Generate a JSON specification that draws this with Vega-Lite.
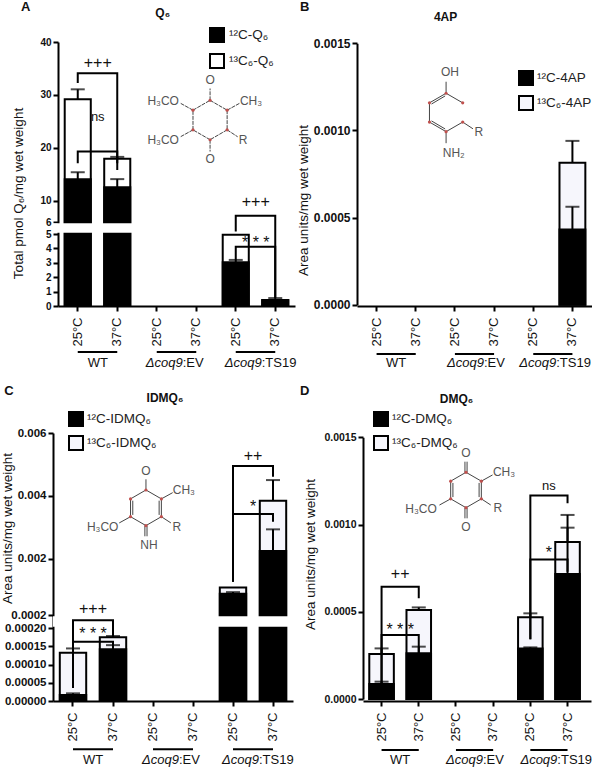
{
"$schema":"https://vega.github.io/schema/vega-lite/v6.json",
"autosize":"none",
"padding":{"left":53,"top":42,"right":539,"bottom":726},
"background":"white",
"config":{"font":"Liberation Sans","view":{"stroke":null},"text":{"font":"Liberation Sans","color":"#111"},"axis":{"labelFont":"Liberation Sans","titleFont":"Liberation Sans","grid":false,"domainColor":"black","domainWidth":2,"tickColor":"black","tickWidth":2,"tickSize":5,"labelColor":"#111","titleColor":"#111"},"legend":{"labelFont":"Liberation Sans"}},
"columns":2,
"bounds":"flush",
"spacing":{"row":127,"column":62},
"resolve":{"scale":{"fill":"independent"},"legend":{"fill":"independent"}},
"concat":[
{"width":242,"height":264,
 "resolve":{"scale":{"x":"independent","y":"independent"}},
 "layer":[
 {"encoding":{
   "x":{"field":"x","type":"nominal","scale":{"domain":["WT 25°C","WT 37°C","EV 25°C","EV 37°C","TS19 25°C","TS19 37°C"],"range":[5,242],"paddingInner":0.34,"paddingOuter":0.17},"axis":{"title":null,"labelAngle":-90,"labelFontSize":13,"labelPadding":6,"labelExpr":"slice(datum.value,-4)"}},
   "y":{"field":"y","type":"quantitative","stack":null,"scale":{"domain":[0,5,6,40],"range":[264,192,180,0],"nice":false,"zero":false},"axis":{"values":[0,1,2,3,4,5,6,10,20,30,40],"format":"d","offset":-5,"labelFontSize":10,"labelFontWeight":"bold","labelPadding":2,"title":"Total pmol Q₆/mg wet weight","titleFontSize":13.5,"titleFontWeight":"normal","titleX":-33,"titleY":151}}},
  "layer":[
  {"data":{"values":[
    {"x":"WT 25°C","series":"¹³C₆-Q₆","y":29.2},{"x":"WT 37°C","series":"¹³C₆-Q₆","y":17.96},{"x":"TS19 25°C","series":"¹³C₆-Q₆","y":4.95},{"x":"TS19 37°C","series":"¹³C₆-Q₆","y":0.42},
    {"x":"WT 25°C","series":"¹²C-Q₆","y":14.06},{"x":"WT 37°C","series":"¹²C-Q₆","y":12.55},{"x":"TS19 25°C","series":"¹²C-Q₆","y":3.03},{"x":"TS19 37°C","series":"¹²C-Q₆","y":0.4}]},
   "mark":{"type":"bar","stroke":"black","strokeWidth":2},
   "encoding":{"fill":{"field":"series","type":"nominal","scale":{"domain":["¹²C-Q₆","¹³C₆-Q₆"],"range":["black","white"]},"legend":{"title":null,"orient":"none","legendX":156,"legendY":-15,"symbolType":"square","symbolSize":196,"symbolStrokeColor":"black","symbolStrokeWidth":2,"labelFontSize":13.5,"labelColor":"#222","labelOffset":4,"rowPadding":4}}}},
  {"data":{"name":"errA","values":[
    {"x":"WT 25°C","y":29.2,"top":31.06},{"x":"WT 25°C","y":14.06,"top":15.4},{"x":"WT 37°C","y":17.96,"top":18.3},{"x":"WT 37°C","y":12.55,"top":14.1},{"x":"TS19 25°C","y":3.03,"top":3.2},{"x":"TS19 37°C","y":0.42,"top":0.55}]},
   "mark":{"type":"rule","strokeWidth":2,"color":"black"},"encoding":{"y2":{"field":"top"}}},
  {"data":{"name":"errA"},"mark":{"type":"tick","size":14,"thickness":2,"color":"black"},"encoding":{"y":{"field":"top","type":"quantitative"}}},
  {"data":{"values":[{"y":5.1,"to":5.9}]},"mark":{"type":"rect","fill":"white"},"encoding":{"x":null,"y2":{"field":"to"}}},
  {"data":{"values":[
    {"id":"a","step":1,"x":"WT 25°C","y":32.25},{"id":"a","step":2,"x":"WT 25°C","y":34.1},{"id":"a","step":3,"x":"WT 37°C","y":34.1},{"id":"a","step":4,"x":"WT 37°C","y":17.1},
    {"id":"b","step":1,"x":"WT 25°C","y":17.1},{"id":"b","step":2,"x":"WT 25°C","y":19.3},{"id":"b","step":3,"x":"WT 37°C","y":19.3},{"id":"b","step":4,"x":"WT 37°C","y":15.8},
    {"id":"c","step":1,"x":"TS19 25°C","y":5.2},{"id":"c","step":2,"x":"TS19 25°C","y":7.19},{"id":"c","step":3,"x":"TS19 37°C","y":7.19},{"id":"c","step":4,"x":"TS19 37°C","y":0.56},
    {"id":"d","step":1,"x":"TS19 25°C","y":3.19},{"id":"d","step":2,"x":"TS19 25°C","y":4.12},{"id":"d","step":3,"x":"TS19 37°C","y":4.12},{"id":"d","step":4,"x":"TS19 37°C","y":0.56},
    {"id":"u1","step":1,"x":"WT 25°C","y":-3.19},{"id":"u1","step":2,"x":"WT 37°C","y":-3.19},
    {"id":"u2","step":1,"x":"EV 25°C","y":-3.19},{"id":"u2","step":2,"x":"EV 37°C","y":-3.19},
    {"id":"u3","step":1,"x":"TS19 25°C","y":-3.19},{"id":"u3","step":2,"x":"TS19 37°C","y":-3.19}]},
   "mark":{"type":"line","strokeWidth":2,"color":"black"},"encoding":{"detail":{"field":"id"},"order":{"field":"step","type":"quantitative"}}},
  {"data":{"values":[
    {"x":"WT 25°C","y":36,"label":"+++","size":16},{"x":"WT 25°C","y":25.8,"label":"ns","size":13},{"x":"TS19 25°C","y":9.78,"label":"+++","size":16},{"x":"TS19 25°C","y":4.4,"label":"* * *","size":16},{"x":"WT 25°C","y":-3.96,"label":"WT","size":13}]},
   "mark":{"type":"text","dx":20,"baseline":"middle"},"encoding":{"text":{"field":"label"},"size":{"field":"size","type":"quantitative","scale":null}}},
  {"data":{"values":[{"x":"EV 25°C","y":-3.96,"label":"Δcoq9"},{"x":"TS19 25°C","y":-3.96,"label":"Δcoq9"}]},
   "mark":{"type":"text","dx":26,"align":"right","baseline":"middle","fontStyle":"italic","fontSize":13},"encoding":{"text":{"field":"label"}}},
  {"data":{"values":[{"x":"EV 25°C","y":-3.96,"label":":EV"},{"x":"TS19 25°C","y":-3.96,"label":":TS19"}]},
   "mark":{"type":"text","dx":26,"align":"left","baseline":"middle","fontSize":13},"encoding":{"text":{"field":"label"}}},
  {"data":{"values":[{"x":"WT 25°C","y":45.5,"label":"Q₆"}]},"mark":{"type":"text","dx":85,"baseline":"middle","fontWeight":"bold","fontSize":12},"encoding":{"text":{"field":"label"}}},
  {"data":{"values":[{"x":"WT 25°C","y":46.6,"label":"A"}]},"mark":{"type":"text","dx":-52,"baseline":"middle","fontWeight":"bold","fontSize":13},"encoding":{"text":{"field":"label"}}}
  ]},
 {"encoding":{"x":{"field":"x","type":"quantitative","scale":{"domain":[-7.97,4.31],"nice":false,"zero":false},"axis":null},"y":{"field":"y","type":"quantitative","scale":{"domain":[-9.44,3.96],"nice":false,"zero":false},"axis":null}},
  "layer":[
  {"data":{"values":[
    {"x":0,"y":1,"x2":0.866,"y2":0.5},{"x":0.866,"y":0.5,"x2":0.866,"y2":-0.5},{"x":0.866,"y":-0.5,"x2":0,"y2":-1},{"x":0,"y":-1,"x2":-0.866,"y2":-0.5},{"x":-0.866,"y":-0.5,"x2":-0.866,"y2":0.5},{"x":-0.866,"y":0.5,"x2":0,"y2":1},
    {"x":0,"y":1,"x2":0,"y2":1.6},{"x":0,"y":-1,"x2":0,"y2":-1.6},{"x":0.866,"y":0.5,"x2":1.5,"y2":0.85},{"x":-0.866,"y":0.5,"x2":-1.5,"y2":0.85},{"x":0.866,"y":-0.5,"x2":1.4,"y2":-0.85},{"x":-0.866,"y":-0.5,"x2":-1.5,"y2":-0.85}]},
   "mark":{"type":"rule","strokeWidth":1,"color":"#444","strokeDash":[4,1]},"encoding":{"x2":{"field":"x2"},"y2":{"field":"y2"}}},
  {"data":{"values":[{"x":0,"y":1},{"x":0.866,"y":0.5},{"x":0.866,"y":-0.5},{"x":0,"y":-1},{"x":-0.866,"y":-0.5},{"x":-0.866,"y":0.5}]},"mark":{"type":"circle","size":10,"color":"#c0504d","opacity":1}},
  {"data":{"values":[{"x":0,"y":2.03,"label":"O"},{"x":0,"y":-2.0,"label":"O"},{"x":2.08,"y":0.96,"label":"CH₃"},{"x":-2.38,"y":0.96,"label":"H₃CO"},{"x":1.68,"y":-1,"label":"R"},{"x":-2.38,"y":-1,"label":"H₃CO"}]},"mark":{"type":"text","fontSize":12,"baseline":"middle","color":"#555"},"encoding":{"text":{"field":"label"}}}
  ]}
 ]},
{"width":235,"height":264,
 "resolve":{"scale":{"x":"independent","y":"independent"}},
 "layer":[
 {"encoding":{
   "x":{"field":"x","type":"nominal","scale":{"domain":["WT 25°C","WT 37°C","EV 25°C","EV 37°C","TS19 25°C","TS19 37°C"],"range":[0,235],"paddingInner":0.34,"paddingOuter":0.17},"axis":{"title":null,"labelAngle":-90,"labelFontSize":13,"labelPadding":6,"labelExpr":"slice(datum.value,-4)"}},
   "y":{"field":"y","type":"quantitative","stack":null,"scale":{"domain":[0,0.0015],"range":[262.7,1.3],"nice":false,"zero":false},"axis":{"values":[0,0.0005,0.001,0.0015],"format":".4f","labelFontSize":12,"labelFontWeight":"bold","labelPadding":2,"title":"Area units/mg wet weight","titleFontSize":13.5,"titleFontWeight":"normal","titleX":-47,"titleY":158}}},
  "layer":[
  {"data":{"values":[
    {"x":"TS19 37°C","series":"¹³C₆-4AP","y":0.000815},
    {"x":"TS19 37°C","series":"¹²C-4AP","y":0.000432}]},
   "mark":{"type":"bar","stroke":"black","strokeWidth":2},
   "encoding":{"fill":{"field":"series","type":"nominal","scale":{"domain":["¹²C-4AP","¹³C₆-4AP"],"range":["black","#f6f6fc"]},"legend":{"title":null,"orient":"none","legendX":161,"legendY":28,"symbolType":"square","symbolSize":196,"symbolStrokeColor":"black","symbolStrokeWidth":2,"labelFontSize":13.5,"labelColor":"#222","labelOffset":3,"rowPadding":3}}}},
  {"data":{"name":"errB","values":[{"x":"TS19 37°C","y":0.000815,"top":0.00094},{"x":"TS19 37°C","y":0.000432,"top":0.000562}]},
   "mark":{"type":"rule","strokeWidth":2,"color":"black"},"encoding":{"y2":{"field":"top"}}},
  {"data":{"name":"errB"},"mark":{"type":"tick","size":14,"thickness":2,"color":"black"},"encoding":{"y":{"field":"top","type":"quantitative"}}},
  {"data":{"values":[
    {"id":"u1","step":1,"x":"WT 25°C","y":-0.000283},{"id":"u1","step":2,"x":"WT 37°C","y":-0.000283},
    {"id":"u2","step":1,"x":"EV 25°C","y":-0.000283},{"id":"u2","step":2,"x":"EV 37°C","y":-0.000283},
    {"id":"u3","step":1,"x":"TS19 25°C","y":-0.000283},{"id":"u3","step":2,"x":"TS19 37°C","y":-0.000283}]},
   "mark":{"type":"line","strokeWidth":2,"color":"black"},"encoding":{"detail":{"field":"id"},"order":{"field":"step","type":"quantitative"}}},
  {"data":{"values":[{"x":"WT 25°C","y":-0.000336,"label":"WT"}]},"mark":{"type":"text","dx":19.5,"baseline":"middle","fontSize":13},"encoding":{"text":{"field":"label"}}},
  {"data":{"values":[{"x":"EV 25°C","y":-0.000336,"label":"Δcoq9"}]},
   "mark":{"type":"text","dx":29,"align":"right","baseline":"middle","fontStyle":"italic","fontSize":13},"encoding":{"text":{"field":"label"}}},
  {"data":{"values":[{"x":"EV 25°C","y":-0.000336,"label":":EV"}]},
   "mark":{"type":"text","dx":29,"align":"left","baseline":"middle","fontSize":13},"encoding":{"text":{"field":"label"}}},
  {"data":{"values":[{"x":"TS19 25°C","y":-0.000336,"label":"Δcoq9"}]},
   "mark":{"type":"text","dx":23,"align":"right","baseline":"middle","fontStyle":"italic","fontSize":13},"encoding":{"text":{"field":"label"}}},
  {"data":{"values":[{"x":"TS19 25°C","y":-0.000336,"label":":TS19"}]},
   "mark":{"type":"text","dx":23,"align":"left","baseline":"middle","fontSize":13},"encoding":{"text":{"field":"label"}}},
  {"data":{"values":[{"x":"WT 25°C","y":0.00165,"label":"4AP"}]},"mark":{"type":"text","dx":69,"baseline":"middle","fontWeight":"bold","fontSize":12},"encoding":{"text":{"field":"label"}}},
  {"data":{"values":[{"x":"WT 25°C","y":0.00171,"label":"B"}]},"mark":{"type":"text","dx":-72,"baseline":"middle","fontWeight":"bold","fontSize":13},"encoding":{"text":{"field":"label"}}}
  ]},
 {"encoding":{"x":{"field":"x","type":"quantitative","scale":{"domain":[-4.64,7.6],"nice":false,"zero":false},"axis":null},"y":{"field":"y","type":"quantitative","scale":{"domain":[-10.08,3.67],"nice":false,"zero":false},"axis":null}},
  "layer":[
  {"data":{"values":[
    {"x":0,"y":1,"x2":0.866,"y2":0.5},{"x":0.866,"y":-0.5,"x2":0,"y2":-1},{"x":0,"y":-1,"x2":-0.866,"y2":-0.5},{"x":-0.866,"y":-0.5,"x2":-0.866,"y2":0.5},{"x":-0.866,"y":0.5,"x2":0,"y2":1},
    {"x":-0.76,"y":0.44,"x2":-0.05,"y2":0.86},{"x":-0.76,"y":-0.44,"x2":-0.05,"y2":-0.86},
    {"x":0,"y":1,"x2":0,"y2":1.6},{"x":0,"y":-1,"x2":0,"y2":-1.6},{"x":0.866,"y":-0.5,"x2":1.4,"y2":-0.85}]},
   "mark":{"type":"rule","strokeWidth":1,"color":"#444"},"encoding":{"x2":{"field":"x2"},"y2":{"field":"y2"}}},
  {"data":{"values":[{"x":0,"y":1},{"x":0.866,"y":0.5},{"x":0.866,"y":-0.5},{"x":0,"y":-1},{"x":-0.866,"y":-0.5},{"x":-0.866,"y":0.5}]},"mark":{"type":"circle","size":10,"color":"#c0504d","opacity":1}},
  {"data":{"values":[{"x":0.2,"y":2.1,"label":"OH"},{"x":0.4,"y":-2.1,"label":"NH₂"},{"x":1.7,"y":-1.03,"label":"R"}]},"mark":{"type":"text","fontSize":12,"baseline":"middle","color":"#555"},"encoding":{"text":{"field":"label"}}}
  ]}
 ]},
{"width":242,"height":268,
 "resolve":{"scale":{"x":"independent","y":"independent"}},
 "layer":[
 {"encoding":{
   "x":{"field":"x","type":"nominal","scale":{"domain":["WT 25°C","WT 37°C","EV 25°C","EV 37°C","TS19 25°C","TS19 37°C"],"range":[0,240],"paddingInner":0.34,"paddingOuter":0.17},"axis":{"title":null,"labelAngle":-90,"labelFontSize":13,"labelPadding":6,"labelExpr":"slice(datum.value,-4)"}},
   "y":{"field":"y","type":"quantitative","stack":null,"scale":{"domain":[0,0.0002,0.000201,0.006],"range":[268,195,182,0],"nice":false,"zero":false},"axis":{"values":[0,0.00005,0.0001,0.00015,0.0002,0.000201,0.002,0.004,0.006],"labelExpr":"datum.value<=0.0002?format(datum.value,'.5f'):(datum.value<0.001?'0.0002':format(datum.value,'.3f'))","labelFontSize":11.5,"labelFontWeight":"bold","labelPadding":2,"title":"Area units/mg wet weight","titleFontSize":13.5,"titleFontWeight":"normal","titleX":-39,"titleY":95}}},
  "layer":[
  {"data":{"values":[
    {"x":"WT 25°C","series":"¹³C₆-IDMQ₆","y":0.000132},{"x":"WT 37°C","series":"¹³C₆-IDMQ₆","y":0.000175},{"x":"TS19 25°C","series":"¹³C₆-IDMQ₆","y":0.00108},{"x":"TS19 37°C","series":"¹³C₆-IDMQ₆","y":0.00384},
    {"x":"WT 25°C","series":"¹²C-IDMQ₆","y":0.0000164},{"x":"WT 37°C","series":"¹²C-IDMQ₆","y":0.000142},{"x":"TS19 25°C","series":"¹²C-IDMQ₆","y":0.00088},{"x":"TS19 37°C","series":"¹²C-IDMQ₆","y":0.00224}]},
   "mark":{"type":"bar","stroke":"black","strokeWidth":2},
   "encoding":{"fill":{"field":"series","type":"nominal","scale":{"domain":["¹²C-IDMQ₆","¹³C₆-IDMQ₆"],"range":["black","#f6f6fc"]},"legend":{"title":null,"orient":"none","legendX":15,"legendY":-22,"symbolType":"square","symbolSize":196,"symbolStrokeColor":"black","symbolStrokeWidth":2,"labelFontSize":13.5,"labelColor":"#222","labelOffset":3,"rowPadding":2}}}},
  {"data":{"name":"errC","values":[
    {"x":"WT 25°C","y":0.000132,"top":0.000144},{"x":"WT 25°C","y":0.0000164,"top":0.000021},{"x":"WT 37°C","y":0.000175,"top":0.000178},{"x":"WT 37°C","y":0.000142,"top":0.000153},{"x":"TS19 25°C","y":0.00088,"top":0.00093},{"x":"TS19 37°C","y":0.00384,"top":0.0045},{"x":"TS19 37°C","y":0.00224,"top":0.00293}]},
   "mark":{"type":"rule","strokeWidth":2,"color":"black"},"encoding":{"y2":{"field":"top"}}},
  {"data":{"name":"errC"},"mark":{"type":"tick","size":14,"thickness":2,"color":"black"},"encoding":{"y":{"field":"top","type":"quantitative"}}},
  {"data":{"values":[{"y":0.0002001,"to":0.0002009}]},"mark":{"type":"rect","fill":"white"},"encoding":{"x":null,"y2":{"field":"to"}}},
  {"data":{"values":[
    {"id":"a","step":1,"x":"WT 25°C","y":0.0000356},{"id":"a","step":2,"x":"WT 25°C","y":0.0002006},{"id":"a","step":3,"x":"WT 37°C","y":0.0002006},{"id":"a","step":4,"x":"WT 37°C","y":0.000176},
    {"id":"b","step":1,"x":"WT 25°C","y":0.0000356},{"id":"b","step":2,"x":"WT 25°C","y":0.000162},{"id":"b","step":3,"x":"WT 37°C","y":0.000162},{"id":"b","step":4,"x":"WT 37°C","y":0.000149},
    {"id":"c","step":1,"x":"TS19 25°C","y":0.00126},{"id":"c","step":2,"x":"TS19 25°C","y":0.00495},{"id":"c","step":3,"x":"TS19 37°C","y":0.00495},{"id":"c","step":4,"x":"TS19 37°C","y":0.00461},
    {"id":"d","step":1,"x":"TS19 25°C","y":0.00126},{"id":"d","step":2,"x":"TS19 25°C","y":0.00342},{"id":"d","step":3,"x":"TS19 37°C","y":0.00342},{"id":"d","step":4,"x":"TS19 37°C","y":0.00317},
    {"id":"u1","step":1,"x":"WT 25°C","y":-0.000132},{"id":"u1","step":2,"x":"WT 37°C","y":-0.000132},
    {"id":"u2","step":1,"x":"EV 25°C","y":-0.000132},{"id":"u2","step":2,"x":"EV 37°C","y":-0.000132},
    {"id":"u3","step":1,"x":"TS19 25°C","y":-0.000132},{"id":"u3","step":2,"x":"TS19 37°C","y":-0.000132}]},
   "mark":{"type":"line","strokeWidth":2,"color":"black"},"encoding":{"detail":{"field":"id"},"order":{"field":"step","type":"quantitative"}}},
  {"data":{"values":[
    {"x":"WT 25°C","y":0.00039,"label":"+++","size":16},{"x":"WT 25°C","y":0.000183,"label":"* * *","size":16},{"x":"TS19 25°C","y":0.00527,"label":"++","size":16},{"x":"TS19 25°C","y":0.00364,"label":"*","size":16},{"x":"WT 25°C","y":-0.000162,"label":"WT","size":13}]},
   "mark":{"type":"text","dx":20,"baseline":"middle"},"encoding":{"text":{"field":"label"},"size":{"field":"size","type":"quantitative","scale":null}}},
  {"data":{"values":[{"x":"EV 25°C","y":-0.000162,"label":"Δcoq9"},{"x":"TS19 25°C","y":-0.000162,"label":"Δcoq9"}]},
   "mark":{"type":"text","dx":26,"align":"right","baseline":"middle","fontStyle":"italic","fontSize":13},"encoding":{"text":{"field":"label"}}},
  {"data":{"values":[{"x":"EV 25°C","y":-0.000162,"label":":EV"},{"x":"TS19 25°C","y":-0.000162,"label":":TS19"}]},
   "mark":{"type":"text","dx":26,"align":"left","baseline":"middle","fontSize":13},"encoding":{"text":{"field":"label"}}},
  {"data":{"values":[{"x":"WT 25°C","y":0.00712,"label":"IDMQ₆"}]},"mark":{"type":"text","dx":92,"baseline":"middle","fontWeight":"bold","fontSize":12},"encoding":{"text":{"field":"label"}}},
  {"data":{"values":[{"x":"WT 25°C","y":0.00734,"label":"C"}]},"mark":{"type":"text","dx":-64,"baseline":"middle","fontWeight":"bold","fontSize":13},"encoding":{"text":{"field":"label"}}}
  ]},
 {"encoding":{"x":{"field":"x","type":"quantitative","scale":{"domain":[-5.22,8.37],"nice":false,"zero":false},"axis":null},"y":{"field":"y","type":"quantitative","scale":{"domain":[-10.85,4.2],"nice":false,"zero":false},"axis":null}},
  "layer":[
  {"data":{"values":[
    {"x":0,"y":1,"x2":0.866,"y2":0.5},{"x":0.866,"y":0.5,"x2":0.866,"y2":-0.5},{"x":0.866,"y":-0.5,"x2":0,"y2":-1},{"x":0,"y":-1,"x2":-0.866,"y2":-0.5},{"x":-0.866,"y":-0.5,"x2":-0.866,"y2":0.5},{"x":-0.866,"y":0.5,"x2":0,"y2":1},
    {"x":0.74,"y":0.4,"x2":0.74,"y2":-0.4},{"x":-0.74,"y":0.4,"x2":-0.74,"y2":-0.4},
    {"x":0,"y":1,"x2":0,"y2":1.6},{"x":0.06,"y":-1,"x2":0.06,"y2":-1.6},{"x":-0.06,"y":-1,"x2":-0.06,"y2":-1.6},{"x":0.866,"y":0.5,"x2":1.5,"y2":0.85},{"x":-0.866,"y":-0.5,"x2":-1.5,"y2":-0.85},{"x":0.866,"y":-0.5,"x2":1.4,"y2":-0.85}]},
   "mark":{"type":"rule","strokeWidth":1,"color":"#444"},"encoding":{"x2":{"field":"x2"},"y2":{"field":"y2"}}},
  {"data":{"values":[{"x":0,"y":1},{"x":0.866,"y":0.5},{"x":0.866,"y":-0.5},{"x":0,"y":-1},{"x":-0.866,"y":-0.5},{"x":-0.866,"y":0.5}]},"mark":{"type":"circle","size":10,"color":"#c0504d","opacity":1}},
  {"data":{"values":[{"x":0,"y":2.07,"label":"O"},{"x":0.17,"y":-2.1,"label":"NH"},{"x":2.13,"y":1,"label":"CH₃"},{"x":-2.43,"y":-1.08,"label":"H₃CO"},{"x":1.74,"y":-1.08,"label":"R"}]},"mark":{"type":"text","fontSize":12,"baseline":"middle","color":"#555"},"encoding":{"text":{"field":"label"}}}
  ]}
 ]},
{"width":235,"height":268,
 "resolve":{"scale":{"x":"independent","y":"independent"}},
 "layer":[
 {"encoding":{
   "x":{"field":"x","type":"nominal","scale":{"domain":["WT 25°C","WT 37°C","EV 25°C","EV 37°C","TS19 25°C","TS19 37°C"],"range":[6,234],"paddingInner":0.34,"paddingOuter":0.235,"align":0.36},"axis":{"title":null,"labelAngle":-90,"labelFontSize":13,"labelPadding":6,"labelExpr":"slice(datum.value,-4)"}},
   "y":{"field":"y","type":"quantitative","stack":null,"scale":{"domain":[0,0.0015],"range":[266,4.3],"nice":false,"zero":false},"axis":{"values":[0,0.0005,0.001,0.0015],"format":".4f","offset":-6,"labelFontSize":10.5,"labelFontWeight":"bold","labelPadding":2,"title":"Area units/mg wet weight","titleFontSize":13.5,"titleFontWeight":"normal","titleX":-46,"titleY":121}}},
  "layer":[
  {"data":{"values":[
    {"x":"WT 25°C","series":"¹³C₆-DMQ₆","y":0.000258},{"x":"WT 37°C","series":"¹³C₆-DMQ₆","y":0.00051},{"x":"TS19 25°C","series":"¹³C₆-DMQ₆","y":0.000468},{"x":"TS19 37°C","series":"¹³C₆-DMQ₆","y":0.0009},
    {"x":"WT 25°C","series":"¹²C-DMQ₆","y":0.000086},{"x":"WT 37°C","series":"¹²C-DMQ₆","y":0.000262},{"x":"TS19 25°C","series":"¹²C-DMQ₆","y":0.00029},{"x":"TS19 37°C","series":"¹²C-DMQ₆","y":0.000717}]},
   "mark":{"type":"bar","stroke":"black","strokeWidth":2},
   "encoding":{"fill":{"field":"series","type":"nominal","scale":{"domain":["¹²C-DMQ₆","¹³C₆-DMQ₆"],"range":["black","#f6f6fc"]},"legend":{"title":null,"orient":"none","legendX":16,"legendY":-22,"symbolType":"square","symbolSize":196,"symbolStrokeColor":"black","symbolStrokeWidth":2,"labelFontSize":13.5,"labelColor":"#222","labelOffset":3,"rowPadding":2}}}},
  {"data":{"name":"errD","values":[
    {"x":"WT 25°C","y":0.000258,"top":0.00029},{"x":"WT 25°C","y":0.000086,"top":0.0000994},{"x":"WT 37°C","y":0.00051,"top":0.000525},{"x":"WT 37°C","y":0.000262,"top":0.0003},{"x":"TS19 25°C","y":0.000468,"top":0.000491},{"x":"TS19 25°C","y":0.00029,"top":0.000296},{"x":"TS19 37°C","y":0.0009,"top":0.001055},{"x":"TS19 37°C","y":0.000717,"top":0.000982}]},
   "mark":{"type":"rule","strokeWidth":2,"color":"black"},"encoding":{"y2":{"field":"top"}}},
  {"data":{"name":"errD"},"mark":{"type":"tick","size":14,"thickness":2,"color":"black"},"encoding":{"y":{"field":"top","type":"quantitative"}}},
  {"data":{"values":[
    {"id":"a","step":1,"x":"WT 25°C","y":0.00009},{"id":"a","step":2,"x":"WT 25°C","y":0.000644},{"id":"a","step":3,"x":"WT 37°C","y":0.000644},{"id":"a","step":4,"x":"WT 37°C","y":0.000577},
    {"id":"b","step":1,"x":"WT 25°C","y":0.00009},{"id":"b","step":2,"x":"WT 25°C","y":0.000367},{"id":"b","step":3,"x":"WT 37°C","y":0.000367},{"id":"b","step":4,"x":"WT 37°C","y":0.000262},
    {"id":"c","step":1,"x":"TS19 25°C","y":0.000342},{"id":"c","step":2,"x":"TS19 25°C","y":0.001166},{"id":"c","step":3,"x":"TS19 37°C","y":0.001166},{"id":"c","step":4,"x":"TS19 37°C","y":0.001122},
    {"id":"d","step":1,"x":"TS19 25°C","y":0.000342},{"id":"d","step":2,"x":"TS19 25°C","y":0.0008},{"id":"d","step":3,"x":"TS19 37°C","y":0.0008},{"id":"d","step":4,"x":"TS19 37°C","y":0.00073},
    {"id":"u1","step":1,"x":"WT 25°C","y":-0.000292},{"id":"u1","step":2,"x":"WT 37°C","y":-0.000292},
    {"id":"u2","step":1,"x":"EV 25°C","y":-0.000292},{"id":"u2","step":2,"x":"EV 37°C","y":-0.000292},
    {"id":"u3","step":1,"x":"TS19 25°C","y":-0.000292},{"id":"u3","step":2,"x":"TS19 37°C","y":-0.000292}]},
   "mark":{"type":"line","strokeWidth":2,"color":"black"},"encoding":{"detail":{"field":"id"},"order":{"field":"step","type":"quantitative"}}},
  {"data":{"values":[
    {"x":"WT 25°C","y":0.000715,"label":"++","size":16},{"x":"WT 25°C","y":0.000395,"label":"* * *","size":16},{"x":"TS19 25°C","y":0.00122,"label":"ns","size":13},{"x":"TS19 25°C","y":0.000835,"label":"*","size":16},{"x":"WT 25°C","y":-0.00035,"label":"WT","size":13}]},
   "mark":{"type":"text","dx":18.6,"baseline":"middle"},"encoding":{"text":{"field":"label"},"size":{"field":"size","type":"quantitative","scale":null}}},
  {"data":{"values":[{"x":"EV 25°C","y":-0.00035,"label":"Δcoq9"},{"x":"TS19 25°C","y":-0.00035,"label":"Δcoq9"}]},
   "mark":{"type":"text","dx":27,"align":"right","baseline":"middle","fontStyle":"italic","fontSize":13},"encoding":{"text":{"field":"label"}}},
  {"data":{"values":[{"x":"EV 25°C","y":-0.00035,"label":":EV"},{"x":"TS19 25°C","y":-0.00035,"label":":TS19"}]},
   "mark":{"type":"text","dx":27,"align":"left","baseline":"middle","fontSize":13},"encoding":{"text":{"field":"label"}}},
  {"data":{"values":[{"x":"WT 25°C","y":0.00172,"label":"DMQ₆"}]},"mark":{"type":"text","dx":75,"baseline":"middle","fontWeight":"bold","fontSize":12},"encoding":{"text":{"field":"label"}}},
  {"data":{"values":[{"x":"WT 25°C","y":0.001765,"label":"D"}]},"mark":{"type":"text","dx":-77,"baseline":"middle","fontWeight":"bold","fontSize":13},"encoding":{"text":{"field":"label"}}}
  ]},
 {"encoding":{"x":{"field":"x","type":"quantitative","scale":{"domain":[-6.16,7.12],"nice":false,"zero":false},"axis":null},"y":{"field":"y","type":"quantitative","scale":{"domain":[-11.92,3.22],"nice":false,"zero":false},"axis":null}},
  "layer":[
  {"data":{"values":[
    {"x":0,"y":1,"x2":0.866,"y2":0.5},{"x":0.866,"y":0.5,"x2":0.866,"y2":-0.5},{"x":0.866,"y":-0.5,"x2":0,"y2":-1},{"x":0,"y":-1,"x2":-0.866,"y2":-0.5},{"x":-0.866,"y":-0.5,"x2":-0.866,"y2":0.5},{"x":-0.866,"y":0.5,"x2":0,"y2":1},
    {"x":0.74,"y":0.4,"x2":0.74,"y2":-0.4},{"x":-0.74,"y":0.4,"x2":-0.74,"y2":-0.4},
    {"x":0.06,"y":1,"x2":0.06,"y2":1.6},{"x":-0.06,"y":1,"x2":-0.06,"y2":1.6},{"x":0.06,"y":-1,"x2":0.06,"y2":-1.6},{"x":-0.06,"y":-1,"x2":-0.06,"y2":-1.6},{"x":0.866,"y":0.5,"x2":1.5,"y2":0.85},{"x":-0.866,"y":-0.5,"x2":-1.5,"y2":-0.85},{"x":0.866,"y":-0.5,"x2":1.4,"y2":-0.85}]},
   "mark":{"type":"rule","strokeWidth":1,"color":"#444"},"encoding":{"x2":{"field":"x2"},"y2":{"field":"y2"}}},
  {"data":{"values":[{"x":0,"y":1},{"x":0.866,"y":0.5},{"x":0.866,"y":-0.5},{"x":0,"y":-1},{"x":-0.866,"y":-0.5},{"x":-0.866,"y":0.5}]},"mark":{"type":"circle","size":10,"color":"#c0504d","opacity":1}},
  {"data":{"values":[{"x":0,"y":2.1,"label":"O"},{"x":0,"y":-2.07,"label":"O"},{"x":2.15,"y":1,"label":"CH₃"},{"x":-2.54,"y":-1.07,"label":"H₃CO"},{"x":1.8,"y":-1.03,"label":"R"}]},"mark":{"type":"text","fontSize":12,"baseline":"middle","color":"#555"},"encoding":{"text":{"field":"label"}}}
  ]}
 ]}
]
}
